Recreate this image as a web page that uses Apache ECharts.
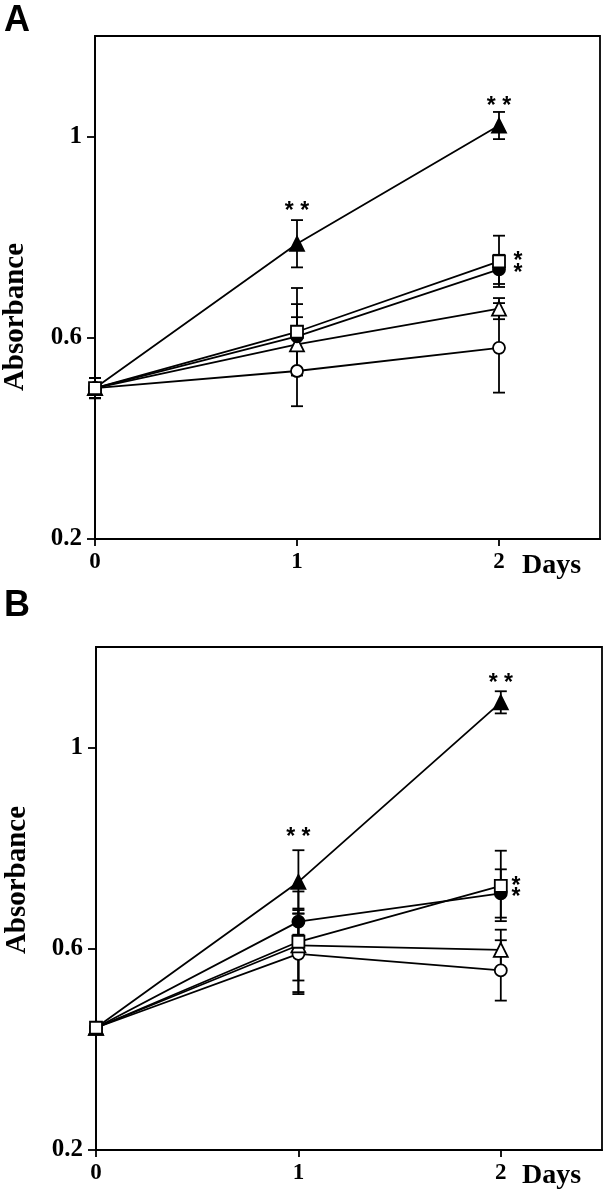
<!DOCTYPE html>
<html><head><meta charset="utf-8">
<script src="https://cdn.jsdelivr.net/npm/echarts@6/dist/echarts.min.js"></script>
<style>html,body{margin:0;padding:0;background:#fff}#c{width:610px;height:1199px}</style>
</head><body><div id="c"></div>
<script>
const days = [0, 1, 2];
// Panel A
const A_filledTri = [0.50, 0.787, 1.022], A_filledTriErr = [0.02, 0.047, 0.027];
const A_openSq    = [0.50, 0.612, 0.752], A_openSqErr    = [0.02, 0.087, 0.051];
const A_filledCir = [0.50, 0.603, 0.736], A_filledCirErr = [0.02, 0.064, 0.029];
const A_openTri   = [0.50, 0.587, 0.658], A_openTriErr   = [0.02, 0.054, 0.021];
const A_openCir   = [0.50, 0.534, 0.580], A_openCirErr   = [0.02, 0.070, 0.089];
const A_stars = [[1, 0.861, '* *'], [2, 1.069, '* *'], [2.094, 0.762, '*'], [2.094, 0.737, '*']];
// Panel B
const B_filledTri = [0.443, 0.733, 1.090], B_filledTriErr = [0, 0.063, 0.022];
const B_openSq    = [0.443, 0.614, 0.725], B_openSqErr    = [0, 0.100, 0.070];
const B_filledCir = [0.443, 0.654, 0.710], B_filledCirErr = [0, 0.026, 0.048];
const B_openTri   = [0.443, 0.607, 0.598], B_openTriErr   = [0, 0.070, 0.040];
const B_openCir   = [0.443, 0.590, 0.557], B_openCirErr   = [0, 0.080, 0.060];
const B_stars = [[1, 0.830, '* *'], [2, 1.137, '* *'], [2.075, 0.733, '*'], [2.075, 0.711, '*']];
const yTicks = [0.2, 0.6, 1.0];
const xTicks = [0, 1, 2];

const SERIF = '"Liberation Serif","DejaVu Serif",serif';
const SANS = '"Liberation Sans",Arial,sans-serif';
const chart = echarts.init(document.getElementById('c'), null, {renderer: 'canvas'});

function xAxis(i) {
  return {
    type: 'value', gridIndex: i, min: 0, max: 2.5, interval: 1,
    axisLine: {show: true, lineStyle: {color: '#000', width: 1.8}},
    axisTick: {show: true, inside: false, length: 7, customValues: xTicks, lineStyle: {color: '#000', width: 1.8}},
    axisLabel: {margin: 12, color: '#000', fontFamily: SERIF, fontWeight: 'bold', fontSize: 23, customValues: xTicks,
      formatter: v => String(Math.round(v))},
    splitLine: {show: false}
  };
}
function yAxis(i) {
  return {
    type: 'value', gridIndex: i, min: 0.2, max: 1.2, interval: 0.4,
    axisLine: {show: true, lineStyle: {color: '#000', width: 1.8}},
    axisTick: {show: true, inside: false, length: 8, customValues: yTicks, lineStyle: {color: '#000', width: 1.8}},
    axisLabel: {margin: 13, color: '#000', fontFamily: SERIF, fontWeight: 'bold', fontSize: 25, customValues: yTicks,
      formatter: v => {
        const r = Math.round(v * 10) / 10;
        return r === 1 ? '1' : r.toFixed(1);
      }},
    splitLine: {show: false}
  };
}

const markers = [
  {key: 'openCir', symbol: 'circle', fill: '#fff'},
  {key: 'openTri', symbol: 'triangle', fill: '#fff'},
  {key: 'filledCir', symbol: 'circle', fill: '#000'},
  {key: 'filledTri', symbol: 'triangle', fill: '#000'},
  {key: 'openSq', symbol: 'rect', fill: '#fff'}
];
const panels = [
  {openCir: [A_openCir, A_openCirErr], openTri: [A_openTri, A_openTriErr], filledCir: [A_filledCir, A_filledCirErr],
   filledTri: [A_filledTri, A_filledTriErr], openSq: [A_openSq, A_openSqErr], stars: A_stars},
  {openCir: [B_openCir, B_openCirErr], openTri: [B_openTri, B_openTriErr], filledCir: [B_filledCir, B_filledCirErr],
   filledTri: [B_filledTri, B_filledTriErr], openSq: [B_openSq, B_openSqErr], stars: B_stars}
];

const series = [];
panels.forEach((p, gi) => {
  const errData = [];
  markers.forEach(m => {
    const [vals, errs] = p[m.key];
    days.forEach((d, k) => { if (errs[k] > 0) errData.push([d, vals[k], errs[k]]); });
  });
  series.push({
    type: 'custom', xAxisIndex: gi, yAxisIndex: gi, z: 1, silent: true,
    data: errData,
    renderItem: (params, api) => {
      const x = api.value(0), y = api.value(1), e = api.value(2);
      const top = api.coord([x, y + e]);
      const bot = api.coord([x, y - e]);
      const hw = 6;
      const st = {stroke: '#000', lineWidth: 1.8, fill: null};
      return {type: 'group', children: [
        {type: 'line', shape: {x1: top[0], y1: top[1], x2: bot[0], y2: bot[1]}, style: st},
        {type: 'line', shape: {x1: top[0] - hw, y1: top[1], x2: top[0] + hw, y2: top[1]}, style: st},
        {type: 'line', shape: {x1: bot[0] - hw, y1: bot[1], x2: bot[0] + hw, y2: bot[1]}, style: st}
      ]};
    }
  });
  markers.forEach((m, mi) => {
    const [vals] = p[m.key];
    series.push({
      type: 'line', xAxisIndex: gi, yAxisIndex: gi, z: 2 + mi,
      data: days.map((d, k) => [d, vals[k]]),
      symbol: m.symbol, symbolSize: m.symbol === 'triangle' ? 14 : 12, showSymbol: true,
      lineStyle: {color: '#000', width: 1.8},
      itemStyle: {color: m.fill, borderColor: '#000', borderWidth: 1.8},
      emphasis: {disabled: true}, animation: false
    });
  });
  series.push({
    type: 'custom', xAxisIndex: gi, yAxisIndex: gi, z: 10, silent: true,
    data: p.stars,
    renderItem: (params, api) => {
      const c = api.coord([api.value(0), api.value(1)]);
      return {type: 'text', x: c[0], y: c[1] + 5, style: {text: p.stars[params.dataIndex][2],
        fontFamily: SANS, fontWeight: 'bold', fontSize: 23, fill: '#000', align: 'center', verticalAlign: 'middle'}};
    }
  });
});

chart.setOption({
  animation: false,
  backgroundColor: '#fff',
  grid: [
    {left: 95, top: 36, width: 505, height: 503, show: true, borderColor: '#000', borderWidth: 1.8, backgroundColor: 'transparent'},
    {left: 96, top: 647, width: 506, height: 503, show: true, borderColor: '#000', borderWidth: 1.8, backgroundColor: 'transparent'}
  ],
  xAxis: [xAxis(0), xAxis(1)],
  yAxis: [yAxis(0), yAxis(1)],
  series: series,
  graphic: [
    {type: 'text', x: 4, y: 3, style: {text: 'A', fontFamily: SANS, fontWeight: 'bold', fontSize: 36, fill: '#000'}},
    {type: 'text', x: 4, y: 588, style: {text: 'B', fontFamily: SANS, fontWeight: 'bold', fontSize: 36, fill: '#000'}},
    {type: 'text', x: 16, y: 317, rotation: Math.PI / 2,
      style: {text: 'Absorbance', fontFamily: SERIF, fontWeight: 'bold', fontSize: 29, fill: '#000', align: 'center', verticalAlign: 'middle'}},
    {type: 'text', x: 18, y: 880, rotation: Math.PI / 2,
      style: {text: 'Absorbance', fontFamily: SERIF, fontWeight: 'bold', fontSize: 29, fill: '#000', align: 'center', verticalAlign: 'middle'}},
    {type: 'text', x: 522, y: 566, style: {text: 'Days', fontFamily: SERIF, fontWeight: 'bold', fontSize: 28, fill: '#000', verticalAlign: 'middle'}},
    {type: 'text', x: 522, y: 1176, style: {text: 'Days', fontFamily: SERIF, fontWeight: 'bold', fontSize: 28, fill: '#000', verticalAlign: 'middle'}}
  ]
});
</script></body></html>
